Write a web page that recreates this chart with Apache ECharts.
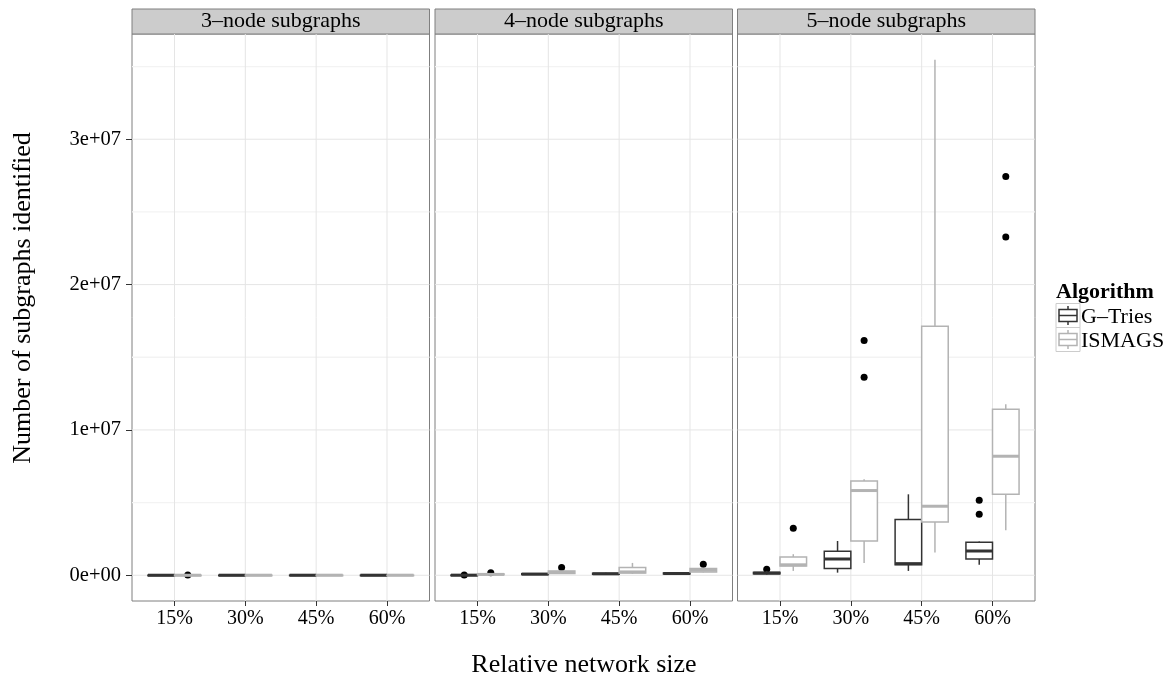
<!DOCTYPE html>
<html>
<head>
<meta charset="utf-8">
<script src="https://cdn.jsdelivr.net/npm/echarts@6/dist/echarts.min.js"></script>
<style>html,body{margin:0;padding:0;background:#fff}#c{width:1172px;height:683px}</style>
</head>
<body>
<div id="c"></div>
<script>
// ---------------- DATA ----------------
const categories = ['15%', '30%', '45%', '60%'];
const panels = ['3–node subgraphs', '4–node subgraphs', '5–node subgraphs'];
const algorithms = ['G–Tries', 'ISMAGS'];
const yTickValues = [0, 1e7, 2e7, 3e7];
const yTickLabels = ['0e+00', '1e+07', '2e+07', '3e+07'];
const yMinorValues = [5e6, 1.5e7, 2.5e7, 3.5e7];
const xTitle = 'Relative network size';
const yTitle = 'Number of subgraphs identified';
const legendTitle = 'Algorithm';

// box stats per category: [lower whisker, Q1, median, Q3, upper whisker]
const gtries3 = [[500, 1500, 3000, 5000, 8000], [800, 2000, 4000, 6000, 9000], [900, 2500, 4500, 7000, 10000], [1000, 3000, 5000, 8000, 12000]];
const ismags3 = [[600, 1800, 3500, 5500, 9000], [900, 2200, 4500, 6500, 10000], [1000, 2800, 5000, 7500, 11000], [1200, 3200, 5500, 8500, 13000]];
const gtries4 = [[2000, 5000, 8000, 12000, 18000], [30000, 50000, 80000, 110000, 150000], [40000, 70000, 100000, 140000, 180000], [60000, 90000, 120000, 160000, 200000]];
const ismags4 = [[20000, 40000, 60000, 90000, 120000], [100000, 120000, 200000, 290000, 300000], [100000, 160000, 230000, 530000, 850000], [200000, 230000, 350000, 460000, 480000]];
const gtries5 = [[50000, 100000, 150000, 200000, 300000], [180000, 460000, 1120000, 1650000, 2360000], [300000, 720000, 800000, 3830000, 5570000], [730000, 1120000, 1670000, 2270000, 2320000]];
const ismags5 = [[300000, 640000, 720000, 1260000, 1450000], [850000, 2360000, 5830000, 6490000, 6600000], [1560000, 3670000, 4750000, 17140000, 35470000], [3100000, 5570000, 8190000, 11420000, 11770000]];

// outliers: [category index, value]
const gtriesOut3 = [];
const ismagsOut3 = [[0, 20000]];
const gtriesOut4 = [[0, 25000]];
const ismagsOut4 = [[0, 180000], [1, 530000], [3, 760000]];
const gtriesOut5 = [[0, 420000], [3, 4200000], [3, 5160000]];
const ismagsOut5 = [[0, 3230000], [1, 13630000], [1, 16150000], [3, 23280000], [3, 27440000]];

// ---------------- LAYOUT / STYLE ----------------
const FONT = '"Liberation Serif", "Times New Roman", serif';
const COLORS = ['#333333', '#b3b3b3'];
const panelLeft = [132, 435, 737.5];
const panelWidth = 297.5;
const panelTop = 34;
const panelHeight = 567;
const yMin = -1.77e6, yMax = 3.724e7;
const DODGE = 0.1875, BOXW = 0.375;

const statsByPanel = [[gtries3, ismags3], [gtries4, ismags4], [gtries5, ismags5]];
const outByPanel = [[gtriesOut3, ismagsOut3], [gtriesOut4, ismagsOut4], [gtriesOut5, ismagsOut5]];

function renderBox(color) {
  return function (params, api) {
    const x = api.value(0);
    const half = api.size([BOXW, 0])[0] / 2;
    const pLow = api.coord([x, api.value(1)]);
    const pQ1 = api.coord([x, api.value(2)]);
    const pMed = api.coord([x, api.value(3)]);
    const pQ3 = api.coord([x, api.value(4)]);
    const pHigh = api.coord([x, api.value(5)]);
    const cx = pLow[0];
    const lw = 1.5;
    return {
      type: 'group',
      children: [
        { type: 'line', shape: { x1: cx, y1: pQ1[1], x2: cx, y2: pLow[1] }, style: { stroke: color, lineWidth: lw } },
        { type: 'line', shape: { x1: cx, y1: pQ3[1], x2: cx, y2: pHigh[1] }, style: { stroke: color, lineWidth: lw } },
        { type: 'rect', shape: { x: cx - half, y: pQ3[1], width: 2 * half, height: Math.max(pQ1[1] - pQ3[1], 0.5) }, style: { fill: '#ffffff', stroke: color, lineWidth: lw } },
        { type: 'line', shape: { x1: cx - half, y1: pMed[1], x2: cx + half, y2: pMed[1] }, style: { stroke: color, lineWidth: 3 } }
      ]
    };
  };
}

function renderGrid(params, api) {
  const cs = params.coordSys;
  const orient = api.value(0), v = api.value(1), kind = api.value(2);
  const style = { stroke: kind ? '#f3f3f3' : '#e5e5e5', lineWidth: kind ? 1.3 : 1 };
  if (orient === 0) {
    const y = api.coord([1, v])[1];
    return { type: 'line', shape: { x1: cs.x, y1: y, x2: cs.x + cs.width, y2: y }, style: style };
  }
  const x = api.coord([v, 0])[0];
  return { type: 'line', shape: { x1: x, y1: cs.y, x2: x, y2: cs.y + cs.height }, style: style };
}

const gridLineData = []
  .concat(yMinorValues.map(v => [0, v, 1]))
  .concat(yTickValues.map(v => [0, v, 0]))
  .concat(categories.map((c, i) => [1, i + 1, 0]));

const series = [];
panels.forEach((p, pi) => {
  series.push({
    type: 'custom', xAxisIndex: pi, yAxisIndex: pi, z: 1, silent: true,
    renderItem: renderGrid, data: gridLineData, clip: false
  });
  algorithms.forEach((alg, ai) => {
    const offset = ai === 0 ? -DODGE : DODGE;
    series.push({
      name: alg, type: 'scatter', xAxisIndex: pi, yAxisIndex: pi, z: 2,
      symbol: 'circle', symbolSize: 7, itemStyle: { color: '#000000', opacity: 1 },
      data: outByPanel[pi][ai].map(o => [o[0] + 1 + offset, o[1]])
    });
    series.push({
      name: alg, type: 'custom', xAxisIndex: pi, yAxisIndex: pi, z: 3,
      renderItem: renderBox(COLORS[ai]),
      encode: { x: 0, y: [1, 2, 3, 4, 5] },
      data: statsByPanel[pi][ai].map((s, ci) => [ci + 1 + offset].concat(s))
    });
  });
});

const graphics = [];
panels.forEach((p, pi) => {
  graphics.push({ type: 'rect', shape: { x: panelLeft[pi], y: 9, width: panelWidth, height: 25 }, style: { fill: '#cccccc', stroke: '#7f7f7f', lineWidth: 1 } });
  graphics.push({ type: 'text', x: panelLeft[pi] + panelWidth / 2, y: 21.5, style: { text: p, fontFamily: FONT, fontSize: 22, fill: '#000', align: 'center', verticalAlign: 'middle' } });
});
graphics.push({ type: 'text', x: 23, y: 298, rotation: Math.PI / 2, style: { text: yTitle, fontFamily: FONT, fontSize: 26, fill: '#000', align: 'center', verticalAlign: 'middle' } });
graphics.push({ type: 'text', x: 584, y: 665, style: { text: xTitle, fontFamily: FONT, fontSize: 26, fill: '#000', align: 'center', verticalAlign: 'middle' } });
graphics.push({ type: 'text', x: 1056, y: 292.5, style: { text: legendTitle, fontFamily: FONT, fontSize: 22, fontWeight: 'bold', fill: '#000', align: 'left', verticalAlign: 'middle' } });
algorithms.forEach((alg, ai) => {
  const kx = 1056, ky = 303.5 + 24 * ai, k = 24, c = COLORS[ai];
  graphics.push({ type: 'rect', shape: { x: kx, y: ky, width: k, height: k }, style: { fill: '#fff', stroke: '#cccccc', lineWidth: 1 } });
  graphics.push({ type: 'line', shape: { x1: kx + k / 2, y1: ky + k * 0.1, x2: kx + k / 2, y2: ky + k * 0.25 }, style: { stroke: c, lineWidth: 1.5 } });
  graphics.push({ type: 'line', shape: { x1: kx + k / 2, y1: ky + k * 0.75, x2: kx + k / 2, y2: ky + k * 0.9 }, style: { stroke: c, lineWidth: 1.5 } });
  graphics.push({ type: 'rect', shape: { x: kx + k * 0.125, y: ky + k * 0.25, width: k * 0.75, height: k * 0.5 }, style: { fill: '#fff', stroke: c, lineWidth: 1.5 } });
  graphics.push({ type: 'line', shape: { x1: kx + k * 0.125, y1: ky + k / 2, x2: kx + k * 0.875, y2: ky + k / 2 }, style: { stroke: c, lineWidth: 1.5 } });
  graphics.push({ type: 'text', x: 1081, y: ky + k / 2 + 1.5, style: { text: alg, fontFamily: FONT, fontSize: 22, fill: '#000', align: 'left', verticalAlign: 'middle' } });
});

const option = {
  animation: false,
  backgroundColor: '#ffffff',
  grid: panelLeft.map(l => ({ left: l, top: panelTop, width: panelWidth, height: panelHeight, show: true, backgroundColor: '#ffffff', borderColor: '#7f7f7f', borderWidth: 1, containLabel: false })),
  xAxis: panels.map((p, i) => ({
    type: 'value', gridIndex: i, min: 0.4, max: 4.6, position: 'bottom',
    axisLine: { show: false, onZero: false }, splitLine: { show: false },
    axisTick: { show: true, length: 5, customValues: [1, 2, 3, 4], lineStyle: { color: '#333', width: 1 } },
    axisLabel: { customValues: [1, 2, 3, 4], formatter: v => categories[Math.round(v) - 1], fontFamily: FONT, fontSize: 20, color: '#000', margin: 8 }
  })),
  yAxis: panels.map((p, i) => ({
    type: 'value', gridIndex: i, min: yMin, max: yMax, position: 'left',
    axisLine: { show: false, onZero: false }, splitLine: { show: false }, minorSplitLine: { show: false },
    axisTick: { show: i === 0, length: 6, customValues: yTickValues, lineStyle: { color: '#333', width: 1 } },
    axisLabel: { show: i === 0, customValues: yTickValues, formatter: v => yTickLabels[yTickValues.indexOf(v)], fontFamily: FONT, fontSize: 20.5, color: '#000', margin: 11 }
  })),
  graphic: graphics,
  series: series
};

const chart = echarts.init(document.getElementById('c'), null, { renderer: 'canvas' });
chart.setOption(option);
</script>
</body>
</html>
